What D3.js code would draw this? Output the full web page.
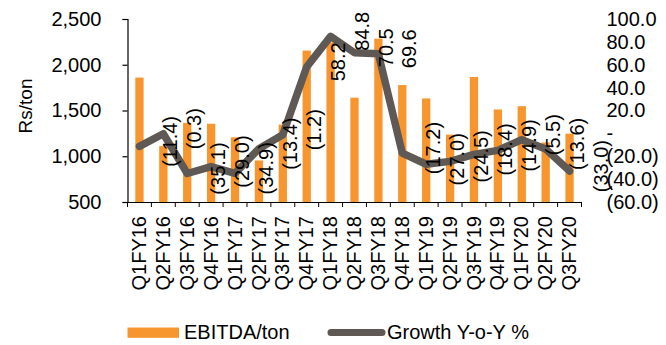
<!DOCTYPE html>
<html>
<head>
<meta charset="utf-8">
<script src="https://cdn.jsdelivr.net/npm/d3@7"></script>
<style>
  html, body { margin: 0; padding: 0; background: #fff; }
  svg { display: block; font-family: "Liberation Sans", Arial, sans-serif; }
</style>
</head>
<body>
<svg id="chart" width="666" height="345"></svg>
<script>
// Quarterly EBITDA per ton (Rs) and its year-on-year growth (%)
const quarters = ["Q1FY16","Q2FY16","Q3FY16","Q4FY16","Q1FY17","Q2FY17","Q3FY17","Q4FY17",
                  "Q1FY18","Q2FY18","Q3FY18","Q4FY18","Q1FY19","Q2FY19","Q3FY19","Q4FY19",
                  "Q1FY20","Q2FY20","Q3FY20"];
const ebitdaPerTon = [1860, 1110, 1365, 1355, 1207, 954, 1346, 2155, 2244, 1640, 2285, 1778,
                      1632, 1236, 1866, 1511, 1547, 1150, 1247];
const growthYoY = [-11.4, -0.3, -35.1, -29.0, -34.9, -13.4, -1.2, 58.2, 84.8, 70.5, 69.6, -17.2,
                   -27.0, -24.5, -18.4, -14.9, -5.5, -13.6, -33.0];
const leftTicks = [500, 1000, 1500, 2000, 2500];
const rightTicks = [-60, -40, -20, 0, 20, 40, 60, 80, 100];
const seriesNames = ["EBITDA/ton", "Growth Y-o-Y %"];

const barColor = "#F7962F";
const lineColor = "#5F5955";
const fontSize = 20;

const svg = d3.select("#chart");
const plot = { left: 127.5, right: 581.5, top: 19, bottom: 202 };

const x = d3.scaleBand().domain(quarters).range([plot.left, plot.right]).padding(0);
const yL = d3.scaleLinear().domain([500, 2500]).range([plot.bottom, plot.top]);
const yR = d3.scaleLinear().domain([-60, 100]).range([plot.bottom, plot.top]);

const fmtComma = d3.format(",");
const fmtPct = v => v === 0 ? "-" : (v < 0 ? "(" + Math.abs(v).toFixed(1) + ")" : v.toFixed(1));

// Bars
const barW = 8.3;
svg.append("g").selectAll("rect").data(ebitdaPerTon).join("rect")
  .attr("x", (d, i) => x(quarters[i]) + x.bandwidth() / 2 - barW / 2)
  .attr("y", d => yL(d))
  .attr("width", barW)
  .attr("height", d => yL(500) - yL(d))
  .attr("fill", barColor);

// Left axis
const gL = svg.append("g").attr("transform", `translate(${plot.left},0)`)
  .call(d3.axisLeft(yL).tickValues(leftTicks).tickFormat(fmtComma).tickSize(5).tickPadding(21));
gL.select(".domain").attr("stroke", "#000").attr("stroke-width", 1.2);
gL.selectAll(".tick line").attr("stroke", "#000").attr("stroke-width", 1.2);
gL.selectAll("text").attr("font-size", fontSize).attr("fill", "#000")
  .attr("font-family", "Liberation Sans, Arial, sans-serif");

// Right axis: labels only
const gR = svg.append("g").attr("transform", `translate(${plot.right},0)`)
  .call(d3.axisRight(yR).tickValues(rightTicks).tickFormat(fmtPct).tickSize(0).tickPadding(25));
gR.select(".domain").remove();
gR.selectAll("text").attr("font-size", fontSize).attr("fill", "#000")
  .attr("font-family", "Liberation Sans, Arial, sans-serif");

// Category axis with ticks between quarters
const gX = svg.append("g").attr("transform", `translate(0,${plot.bottom})`)
  .call(d3.axisBottom(x).tickSize(0).tickPadding(0));
gX.select(".domain").attr("stroke", "#000").attr("stroke-width", 1.2);
gX.selectAll(".tick text")
  .attr("font-size", fontSize).attr("fill", "#000")
  .attr("font-family", "Liberation Sans, Arial, sans-serif")
  .attr("text-anchor", "end")
  .attr("transform", "translate(0,14) rotate(-90)")
  .attr("x", 0).attr("y", 0).attr("dy", "0.33em");
svg.append("g").selectAll("line").data(d3.range(quarters.length + 1)).join("line")
  .attr("x1", i => plot.left + i * x.step()).attr("x2", i => plot.left + i * x.step())
  .attr("y1", plot.bottom).attr("y2", plot.bottom + 5)
  .attr("stroke", "#000").attr("stroke-width", 1);

// Growth line
const line = d3.line()
  .x((d, i) => x(quarters[i]) + x.bandwidth() / 2)
  .y(d => yR(d));
svg.append("path").datum(growthYoY)
  .attr("d", line)
  .attr("fill", "none")
  .attr("stroke", lineColor)
  .attr("stroke-width", 7.5)
  .attr("stroke-linejoin", "round")
  .attr("stroke-linecap", "round");

// Growth data labels, rotated
svg.append("g").selectAll("text").data(growthYoY).join("text")
  .attr("transform", (d, i) => `translate(${x(quarters[i]) + x.bandwidth() / 2 + 31},${yR(d) - 5}) rotate(-90)`)
  .attr("text-anchor", "middle")
  .attr("dy", "0.35em")
  .attr("font-size", fontSize)
  .attr("fill", "#000")
  .text(d => fmtPct(d));

// Left axis title
svg.append("text")
  .attr("transform", "translate(25,106) rotate(-90)")
  .attr("text-anchor", "middle")
  .attr("dy", "0.35em")
  .attr("font-size", 19)
  .attr("fill", "#000")
  .text("Rs/ton");

// Legend
const lg = svg.append("g");
lg.append("rect").attr("x", 127.5).attr("y", 327.5).attr("width", 51.5).attr("height", 10.3)
  .attr("fill", barColor);
lg.append("text").attr("x", 184).attr("y", 339).attr("font-size", fontSize).attr("fill", "#000")
  .text(seriesNames[0]);
lg.append("line").attr("x1", 331).attr("x2", 382).attr("y1", 332.5).attr("y2", 332.5)
  .attr("stroke", lineColor).attr("stroke-width", 7).attr("stroke-linecap", "round");
lg.append("text").attr("x", 387).attr("y", 339).attr("font-size", fontSize).attr("fill", "#000")
  .text(seriesNames[1]);
</script>
</body>
</html>
